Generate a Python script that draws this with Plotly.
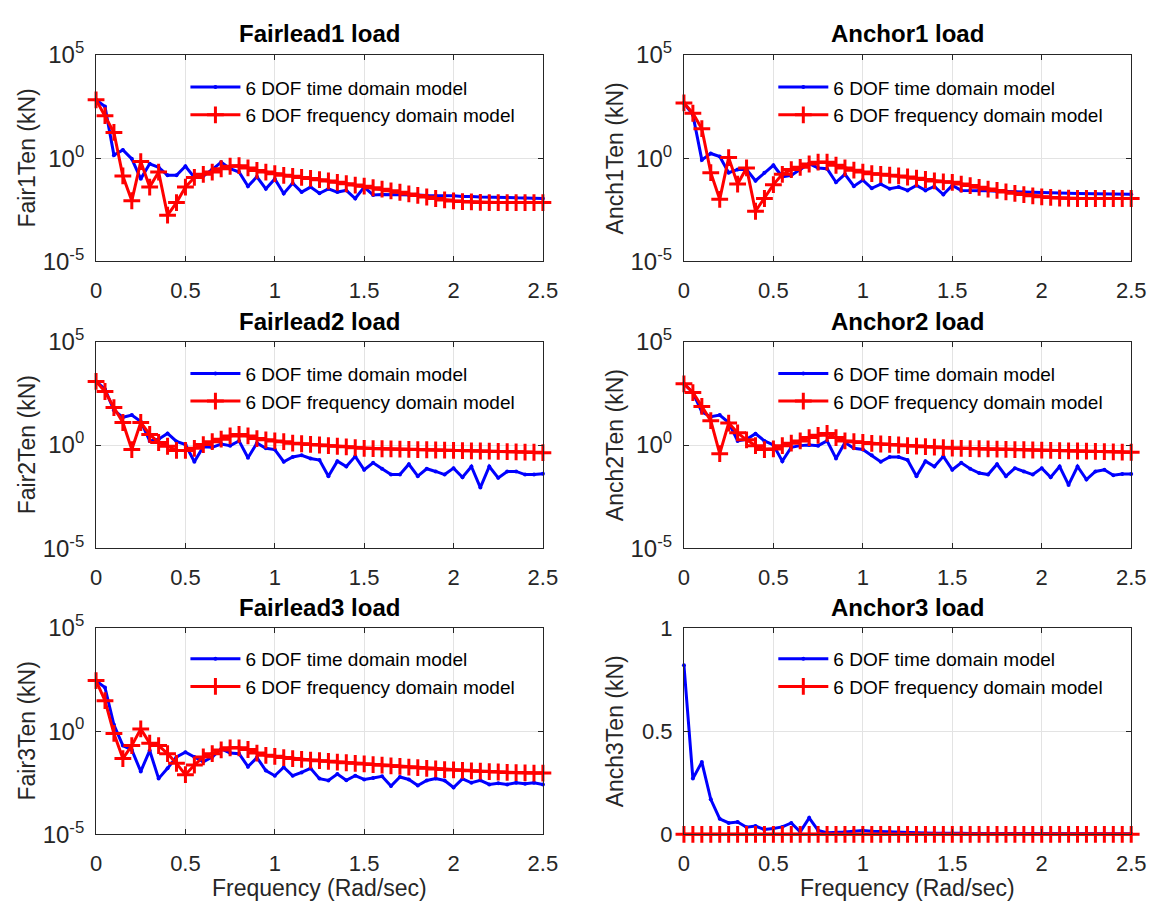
import plotly.graph_objects as go

# ---------------- data ----------------
freq = [0.0, 0.05, 0.1, 0.15, 0.2, 0.25, 0.3, 0.35, 0.4, 0.45,
        0.5, 0.55, 0.6, 0.65, 0.7, 0.75, 0.8, 0.85, 0.9, 0.95,
        1.0, 1.05, 1.1, 1.15, 1.2, 1.25, 1.3, 1.35, 1.4, 1.45,
        1.5, 1.55, 1.6, 1.65, 1.7, 1.75, 1.8, 1.85, 1.9, 1.95,
        2.0, 2.05, 2.1, 2.15, 2.2, 2.25, 2.3, 2.35, 2.4, 2.45, 2.5]

x_tickvals = [0, 0.5, 1, 1.5, 2, 2.5]
x_ticktext = ["0", "0.5", "1", "1.5", "2", "2.5"]
log_tickvals = [1e-5, 1, 1e5]
log_ticktext = ["10<sup>-5</sup>", "10<sup>0</sup>", "10<sup>5</sup>"]
lin_tickvals = [0, 0.5, 1]
lin_ticktext = ["0", "0.5", "1"]

titles = ["Fairlead1 load", "Anchor1 load", "Fairlead2 load",
          "Anchor2 load", "Fairlead3 load", "Anchor3 load"]
ylabels = ["Fair1Ten (kN)", "Anch1Ten (kN)", "Fair2Ten (kN)",
           "Anch2Ten (kN)", "Fair3Ten (kN)", "Anch3Ten (kN)"]
xlabel = "Frequency (Rad/sec)"
series_names = ["6 DOF time domain model", "6 DOF frequency domain model"]

fair1_time = [676, 316, 1.41, 2.51, 0.93, 0.1, 0.537, 0.363, 0.148, 0.148,
              0.407, 0.117, 0.138, 0.282, 0.646, 0.309, 0.214, 0.044, 0.126, 0.033,
              0.098, 0.0195, 0.062, 0.0229, 0.040, 0.020, 0.033, 0.0229, 0.028, 0.0112,
              0.040, 0.0166, 0.0174, 0.0174, 0.0174, 0.0166, 0.0166, 0.0158, 0.0158, 0.0148,
              0.0151, 0.0138, 0.0141, 0.0132, 0.0132, 0.0126, 0.0126, 0.0120, 0.0117, 0.0112, 0.0112]
fair1_freq = [676, 115, 17.8, 0.138, 0.0087, 0.69, 0.040, 0.214, 0.00174, 0.0071,
              0.040, 0.117, 0.166, 0.214, 0.309, 0.407, 0.437, 0.339, 0.257, 0.214,
              0.178, 0.148, 0.132, 0.117, 0.105, 0.091, 0.079, 0.068, 0.058, 0.050,
              0.044, 0.037, 0.0316, 0.0263, 0.0224, 0.0186, 0.0158, 0.0132, 0.0112, 0.0095,
              0.0085, 0.0079, 0.0076, 0.0072, 0.0071, 0.0071, 0.0071, 0.0071, 0.0071, 0.0071, 0.0071]

anch1_time = [479, 126, 0.83, 1.70, 1.20, 0.2, 0.282, 0.282, 0.081, 0.2,
              0.457, 0.126, 0.148, 0.282, 0.55, 0.339, 0.309, 0.068, 0.166, 0.044,
              0.087, 0.035, 0.056, 0.033, 0.040, 0.0275, 0.048, 0.0275, 0.043, 0.0174,
              0.048, 0.0275, 0.0275, 0.0269, 0.0263, 0.0251, 0.0251, 0.024, 0.0234, 0.0224,
              0.0214, 0.0209, 0.020, 0.020, 0.0195, 0.019, 0.0186, 0.0186, 0.0182, 0.0178, 0.0178]
anch1_freq = [479, 151, 26.9, 0.2, 0.0102, 1.07, 0.056, 0.339, 0.0027, 0.0112,
              0.0525, 0.166, 0.282, 0.363, 0.525, 0.646, 0.646, 0.457, 0.339, 0.263,
              0.214, 0.178, 0.166, 0.151, 0.138, 0.123, 0.107, 0.093, 0.079, 0.072,
              0.068, 0.056, 0.047, 0.039, 0.032, 0.0275, 0.0234, 0.020, 0.0174, 0.0151,
              0.0135, 0.0126, 0.0117, 0.0115, 0.0112, 0.0112, 0.0112, 0.0112, 0.0112, 0.0112, 0.0112]

fair2_time = [1200, 501, 47.9, 21.9, 28.2, 13.8, 1.58, 1.91, 3.63, 1.48,
              1.05, 0.155, 0.832, 0.776, 1.12, 0.933, 1.58, 0.24, 1.23, 0.692,
              0.603, 0.155, 0.263, 0.316, 0.224, 0.186, 0.0309, 0.166, 0.0912, 0.282,
              0.0631, 0.138, 0.0708, 0.0372, 0.0372, 0.117, 0.0309, 0.0708, 0.0525, 0.0372,
              0.0759, 0.0275, 0.0912, 0.0087, 0.0912, 0.0257, 0.0525, 0.0525, 0.0372, 0.0372, 0.0407]
fair2_freq = [1200, 389, 64.6, 12.3, 0.603, 12.3, 3.24, 1.32, 0.87, 0.55,
              0.55, 0.69, 1.05, 1.45, 1.91, 2.75, 3.24, 2.75, 2.04, 1.78,
              1.58, 1.45, 1.23, 1.15, 1.07, 1.0, 0.933, 0.871, 0.813, 0.741,
              0.692, 0.676, 0.661, 0.646, 0.631, 0.617, 0.603, 0.589, 0.575, 0.562,
              0.55, 0.537, 0.525, 0.513, 0.501, 0.490, 0.479, 0.468, 0.457, 0.447, 0.427]

anch2_time = [912, 347, 39.8, 23.4, 28.2, 12.3, 1.58, 1.91, 3.55, 1.58,
              1.0, 0.166, 0.776, 0.933, 1.0, 0.933, 1.58, 0.224, 1.32, 0.692,
              0.603, 0.316, 0.155, 0.263, 0.263, 0.186, 0.0309, 0.166, 0.0912, 0.282,
              0.0631, 0.138, 0.0708, 0.0437, 0.0372, 0.117, 0.0309, 0.0759, 0.0525, 0.0372,
              0.0759, 0.0275, 0.0912, 0.0117, 0.0912, 0.0214, 0.0525, 0.0631, 0.0347, 0.0398, 0.0398]
anch2_freq = [912, 347, 74.1, 15.1, 0.38, 11.5, 3.89, 1.78, 0.933, 0.603,
              0.646, 0.933, 1.23, 1.58, 2.29, 2.95, 3.63, 2.29, 1.58, 1.45,
              1.32, 1.2, 1.12, 1.07, 1.0, 0.933, 0.891, 0.832, 0.794, 0.741,
              0.708, 0.692, 0.676, 0.661, 0.646, 0.631, 0.617, 0.603, 0.589, 0.575,
              0.562, 0.55, 0.537, 0.525, 0.513, 0.501, 0.49, 0.479, 0.468, 0.457, 0.447]

fair3_time = [282, 129, 2.04, 0.2, 0.123, 0.0112, 0.115, 0.00501, 0.0158, 0.0562,
              0.0955, 0.0562, 0.0331, 0.0562, 0.138, 0.0871, 0.0813, 0.0191, 0.0525, 0.0123,
              0.00692, 0.0178, 0.00692, 0.01, 0.0158, 0.00501, 0.00407, 0.00832, 0.00417, 0.00692,
              0.00457, 0.00537, 0.00646, 0.00219, 0.00603, 0.00457, 0.00234, 0.00407, 0.00501, 0.00407,
              0.00186, 0.0049, 0.00316, 0.00417, 0.00263, 0.00295, 0.00263, 0.00316, 0.00282, 0.00316, 0.00263]
fair3_freq = [282, 30.2, 0.776, 0.0468, 0.2, 1.29, 0.263, 0.2, 0.0813, 0.0275,
              0.00776, 0.0229, 0.0562, 0.0813, 0.123, 0.155, 0.155, 0.129, 0.0871, 0.0676,
              0.0603, 0.0525, 0.0468, 0.0427, 0.0398, 0.0372, 0.0347, 0.0316, 0.0295, 0.0275,
              0.0257, 0.024, 0.0224, 0.0209, 0.0195, 0.0182, 0.017, 0.0158, 0.0148, 0.0138,
              0.0132, 0.0126, 0.012, 0.0115, 0.011, 0.0105, 0.01, 0.00977, 0.00955, 0.00933, 0.00933]

anch3_time = [0.82, 0.27, 0.35, 0.17, 0.075, 0.055, 0.06, 0.034, 0.04, 0.023,
              0.028, 0.036, 0.055, 0.012, 0.08, 0.019, 0.008, 0.009, 0.011, 0.015,
              0.019, 0.015, 0.013, 0.012, 0.009, 0.007, 0.006, 0.006, 0.005, 0.006,
              0.005, 0.005, 0.004, 0.005, 0.004, 0.004, 0.004, 0.004, 0.003, 0.004,
              0.003, 0.003, 0.003, 0.003, 0.003, 0.003, 0.003, 0.003, 0.003, 0.003, 0.003]
anch3_freq = [0.0, 0.0, 0.0, 0.0, 0.0, 0.0, 0.0, 0.0, 0.0, 0.0,
              0.0, 0.0, 0.0, 0.0, 0.0, 0.0, 0.0, 0.0, 0.0, 0.0,
              0.0, 0.0, 0.0, 0.0, 0.0, 0.0, 0.0, 0.0, 0.0, 0.0,
              0.0, 0.0, 0.0, 0.0, 0.0, 0.0, 0.0, 0.0, 0.0, 0.0,
              0.0, 0.0, 0.0, 0.0, 0.0, 0.0, 0.0, 0.0, 0.0, 0.0, 0.0]

time_series = [fair1_time, anch1_time, fair2_time, anch2_time, fair3_time, anch3_time]
freq_series = [fair1_freq, anch1_freq, fair2_freq, anch2_freq, fair3_freq, anch3_freq]
log_panels = [True, True, True, True, True, False]

# ---------------- layout geometry (pixels, measured on the reference) ----------------
W, H = 1173, 916
FONT = "Liberation Sans, Arial, sans-serif"
INK = "#262626"
col_px = [(91.7, 546.7), (690.3, 1145.7)]
row_px = [(39.3, 252.7), (335.7, 549.3), (631.7, 845.0)]
title_y_px = [17, 315, 611]
legend_top_px = [53, 349, 644]
xlabel_y_px = 900


def fx(p):
    return p / W


def fy(p):
    return 1 - p / H


fig = go.Figure()
annotations = []
layout = dict(
    width=W, height=H,
    margin=dict(l=0, r=0, t=0, b=0),
    paper_bgcolor="white", plot_bgcolor="white",
    font=dict(family=FONT, color=INK, size=20),
    showlegend=True,
)

for i in range(6):
    r, c = divmod(i, 2)
    n = i + 1
    xa = "x" if n == 1 else f"x{n}"
    ya = "y" if n == 1 else f"y{n}"
    lg = "legend" if n == 1 else f"legend{n}"
    x0, x1 = col_px[c]
    top, bot = row_px[r]

    fig.add_trace(go.Scatter(
        x=freq, y=time_series[i], name=series_names[0], mode="lines+markers",
        line=dict(color="#0000ff", width=3), marker=dict(size=4, color="#0000ff"),
        cliponaxis=False, xaxis=xa, yaxis=ya, legend=lg))
    fig.add_trace(go.Scatter(
        x=freq, y=freq_series[i], name=series_names[1], mode="lines+markers",
        line=dict(color="#ff0000", width=3),
        marker=dict(symbol="cross-thin", size=12, line=dict(width=3, color="#ff0000"), color="#ff0000"),
        cliponaxis=False, xaxis=xa, yaxis=ya, legend=lg))

    common = dict(showline=True, linecolor=INK, linewidth=1, mirror="ticks",
                  ticks="inside", ticklen=5, tickcolor=INK, showgrid=True,
                  gridcolor="#e3e3e3", gridwidth=1, zeroline=False)
    layout["xaxis" if n == 1 else f"xaxis{n}"] = dict(
        domain=[fx(x0), fx(x1)], anchor=ya, range=[0, 2.5],
        tickvals=x_tickvals, ticktext=x_ticktext, ticklabelstandoff=9,
        tickfont=dict(family=FONT, size=22, color=INK), **common)
    if log_panels[i]:
        yax = dict(type="log", range=[-5, 5], tickvals=log_tickvals, ticktext=log_ticktext,
                   tickfont=dict(family=FONT, size=24, color=INK))
    else:
        yax = dict(range=[0, 1], tickvals=lin_tickvals, ticktext=lin_ticktext,
                   tickfont=dict(family=FONT, size=22, color=INK))
    layout["yaxis" if n == 1 else f"yaxis{n}"] = dict(
        domain=[fy(bot), fy(top)], anchor=xa, ticklabelstandoff=6, **yax, **common)

    layout[lg] = dict(
        x=fx(x0 + 91), y=fy(legend_top_px[r]), xanchor="left", yanchor="top",
        bgcolor="rgba(0,0,0,0)", borderwidth=0, itemwidth=50,
        font=dict(family=FONT, size=19, color="#000000"), tracegroupgap=0)

    annotations.append(dict(
        text=f"<b>{titles[i]}</b>", x=fx((x0 + x1) / 2), y=fy(title_y_px[r]),
        xref="paper", yref="paper", xanchor="center", yanchor="middle",
        showarrow=False, font=dict(family=FONT, size=24, color="#000000")))
    annotations.append(dict(
        text=ylabels[i], x=fx(x0 - 70), y=fy((top + bot) / 2),
        xref="paper", yref="paper", xanchor="center", yanchor="middle",
        textangle=-90, showarrow=False, font=dict(family=FONT, size=23, color=INK)))
    if r == 2:
        annotations.append(dict(
            text=xlabel, x=fx((x0 + x1) / 2), y=fy(xlabel_y_px),
            xref="paper", yref="paper", xanchor="center", yanchor="middle",
            showarrow=False, font=dict(family=FONT, size=23, color=INK)))

layout["annotations"] = annotations
fig.update_layout(**layout)

pin_script = (
    "var gd=document.getElementById('{plot_id}');"
    "document.documentElement.style.margin='0';"
    "document.documentElement.style.overflow='hidden';"
    "document.body.style.margin='0';"
    "document.body.style.overflow='hidden';"
    "gd.style.position='fixed';gd.style.left='0px';gd.style.top='0px';"
)
fig.write_html("out.html", post_script=pin_script)
